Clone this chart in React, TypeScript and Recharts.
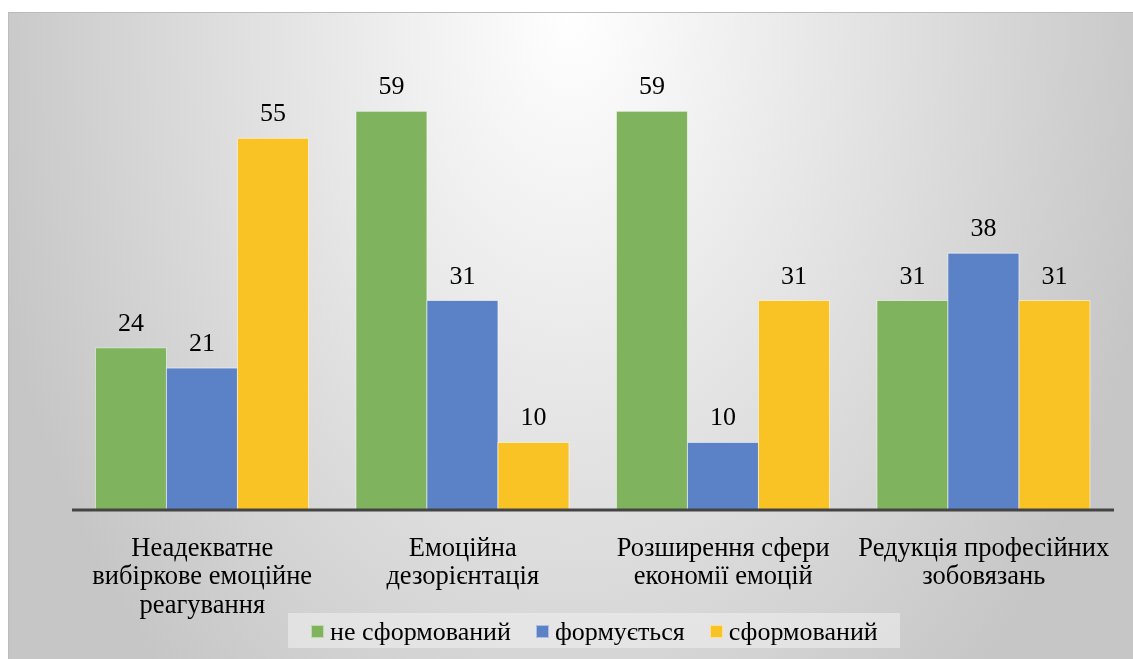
import React from 'react';
import { BarChart, Bar, XAxis, YAxis, LabelList, Legend } from 'recharts';

// Categories and how each one wraps under the axis
const categories = [
  'Неадекватне вибіркове емоційне реагування',
  'Емоційна дезорієнтація',
  'Розширення сфери економії емоцій',
  'Редукція професійних зобовязань',
];
const categoryLines = [
  ['Неадекватне', 'вибіркове емоційне', 'реагування'],
  ['Емоційна', 'дезорієнтація'],
  ['Розширення сфери', 'економії емоцій'],
  ['Редукція професійних', 'зобовязань'],
];

// Series values
const notFormed = [24, 59, 59, 31];
const forming = [21, 31, 10, 38];
const formed = [55, 10, 31, 31];

const seriesNames = ['не сформований', 'формується', 'сформований'];
const seriesKeys = ['notFormed', 'forming', 'formed'];
const seriesColors = ['#80b35e', '#5b81c7', '#f9c225'];

const data = categories.map((name, i) => ({
  name,
  notFormed: notFormed[i],
  forming: forming[i],
  formed: formed[i],
}));

const FONT = "'Liberation Serif', 'Times New Roman', Tinos, 'DejaVu Serif', serif";
const W = 1125;
const H = 647;

const CategoryTick = (props: any) => {
  const { x, y, payload } = props;
  const idx = categories.indexOf(payload.value);
  const lines = idx >= 0 ? categoryLines[idx] : [String(payload.value)];
  return (
    <text x={x} y={y} textAnchor="middle" style={{ fontFamily: FONT }} fontSize={26.5} fill="#000">
      {lines.map((ln, i) => (
        <tspan key={i} x={x} y={y + 45.7 + i * 28.7}>
          {ln}
        </tspan>
      ))}
    </text>
  );
};

const LegendBox = () => (
  <div
    style={{
      width: 612,
      height: 35,
      background: 'rgba(240,240,240,0.55)',
      display: 'flex',
      alignItems: 'flex-start',
      boxSizing: 'border-box',
      paddingLeft: 23,
      fontFamily: FONT,
      fontSize: 26,
      color: '#000',
    }}
  >
    {seriesNames.map((n, i) => (
      <div key={n} style={{ display: 'flex', alignItems: 'flex-start', marginRight: 25 }}>
        <span
          style={{
            display: 'block',
            width: 13,
            height: 13,
            marginTop: 12,
            marginRight: 6,
            background: seriesColors[i],
            boxSizing: 'border-box',
            border: '1px solid rgba(255,255,255,0.5)',
          }}
        />
        <span style={{ display: 'block', lineHeight: '30px', marginTop: 4, whiteSpace: 'nowrap' }}>{n}</span>
      </div>
    ))}
  </div>
);

export default function App() {
  return (
    <div
      style={{
        position: 'fixed',
        left: 8,
        top: 12,
        right: 0,
        bottom: 0,
        overflow: 'hidden',
        fontFamily: FONT,
        background:
          'radial-gradient(ellipse 600px 900px at 50% 0%, #ffffff 0%, #c6c6c6 100%)',
        boxShadow: 'inset 1px 1px 0 #bcbcbc',
      }}
    >
      <BarChart
        width={W}
        height={H}
        data={data}
        margin={{ top: 25, right: 19, left: 64, bottom: 0 }}
        barCategoryGap="9%"
        barGap={0}
        style={{ fontFamily: FONT }}
      >
        <XAxis
          dataKey="name"
          height={149}
          interval={0}
          tickLine={false}
          tickSize={0}
          tickMargin={0}
          axisLine={{ stroke: '#444444', strokeWidth: 3 }}
          tick={<CategoryTick />}
        />
        <YAxis hide domain={[0, 70]} />
        <Legend
          layout="horizontal"
          verticalAlign="middle"
          align="center"
          wrapperStyle={{ position: 'absolute', left: 280, top: 601, width: 612, height: 35 }}
          content={<LegendBox />}
        />
        {seriesKeys.map((k, i) => (
          <Bar
            key={k}
            dataKey={k}
            name={seriesNames[i]}
            fill={seriesColors[i]}
            stroke="rgba(255,255,255,0.55)"
            strokeWidth={1}
            isAnimationActive={false}
          >
            <LabelList
              dataKey={k}
              position="top"
              offset={17}
              style={{ fontFamily: FONT }}
              fontSize={26}
              fill="#000"
            />
          </Bar>
        ))}
      </BarChart>
    </div>
  );
}
